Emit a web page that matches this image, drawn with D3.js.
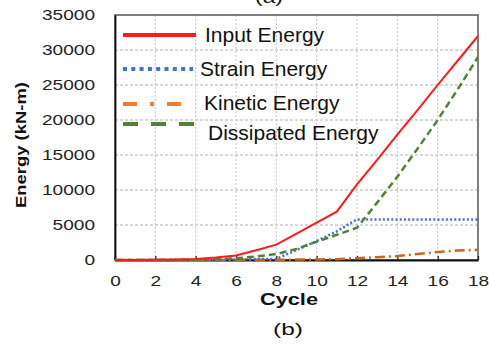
<!DOCTYPE html>
<html><head><meta charset="utf-8">
<script src="https://cdn.jsdelivr.net/npm/d3@7"></script>
<style>body{margin:0;background:#fff}svg{display:block;font-family:"Liberation Sans",Arial,sans-serif}</style>
</head><body><svg id="c" width="489" height="345"></svg>
<script>
const cycles = [0,1,2,3,4,5,6,7,8,9,10,11,12,13,14,15,16,17,18];
const inputEnergy = [0,10,30,80,150,350,650,1400,2200,3770,5330,6900,10800,14300,17900,21400,25000,28500,32000];
const strainEnergy = [0,0,0,0,0,20,80,150,150,1430,2700,4100,5800,5800,5800,5800,5800,5800,5800];
const kineticEnergy = [0,0,0,0,0,0,20,30,40,60,80,120,250,400,570,850,1150,1350,1450];
const dissipatedEnergy = [0,0,0,0,20,100,250,500,860,1570,2620,3600,4600,8200,11900,15900,20000,24400,29000];
const seriesNames = ["Input Energy","Strain Energy","Kinetic Energy","Dissipated Energy"];
const xTicks = [0,2,4,6,8,10,12,14,16,18];
const yTicks = [0,5000,10000,15000,20000,25000,30000,35000];

const svg = d3.select("#c");
const L=115, R=478, T=15, B=260;
const x = d3.scaleLinear().domain([0,18]).range([L,R]);
const y = d3.scaleLinear().domain([0,35000]).range([B,T]);

// grid
svg.append("g").selectAll("line").data(yTicks.slice(1,-1)).join("line")
  .attr("x1",L).attr("x2",R).attr("y1",d=>y(d)).attr("y2",d=>y(d))
  .attr("stroke","#b0b0b0").attr("stroke-width",1).attr("stroke-dasharray","3,2");
svg.append("g").selectAll("line").data(xTicks.slice(1,-1)).join("line")
  .attr("y1",T).attr("y2",B).attr("x1",d=>x(d)).attr("x2",d=>x(d))
  .attr("stroke","#c4c4c4").attr("stroke-width",1).attr("stroke-dasharray","2,2");

// frame
svg.append("rect").attr("x",L).attr("y",T).attr("width",R-L).attr("height",B-T)
  .attr("fill","none").attr("stroke","#555").attr("stroke-width",1.5);

// axes
const xa = svg.append("g").attr("transform",`translate(0,${B})`)
  .call(d3.axisBottom(x).tickValues(xTicks).tickSizeInner(-4).tickSizeOuter(0).tickPadding(15));
const ya = svg.append("g").attr("transform",`translate(${L},0)`)
  .call(d3.axisLeft(y).tickValues(yTicks).tickSize(0).tickPadding(20).tickFormat(d3.format("d")));
[xa,ya].forEach(a=>{
  a.select(".domain").attr("stroke","#111").attr("stroke-width",1.8);
  a.selectAll(".tick line").attr("stroke","#222").attr("stroke-width",1.3);
  a.selectAll("text").attr("font-size",15).attr("fill","#222")
    .attr("font-family","Liberation Sans, Arial, sans-serif")
    .attr("lengthAdjust","spacingAndGlyphs")
    .attr("textLength",function(){return this.textContent.length*10.6;});
});
xa.selectAll(".tick text").attr("dy","0.71em");

const data = [
  {vals: inputEnergy, color:"#ff1a1a", lcolor:"#ff1a1a", dash:null, w:2, ldash:null, lw:4, ly:35, x2:196, tx:205, ty:42},
  {vals: strainEnergy, color:"#4472c4", lcolor:"#4472c4", dash:"2,2.2", w:2.5, ldash:"4,4.3", lw:4, ly:69, x2:193, tx:200, ty:76},
  {vals: kineticEnergy, color:"#cc661e", lcolor:"#ed7d31", dash:"10,4,2,4", w:2.5, ldash:"14,13,4,13", lw:4, ly:104, x2:183, tx:204, ty:110},
  {vals: dissipatedEnergy, color:"#548235", lcolor:"#548235", dash:"7,4", w:2.5, ldash:"15,13", lw:4, ly:124, x2:195, tx:208, ty:140}
];
const line = d3.line().x((d,i)=>x(cycles[i])).y(d=>y(d));
[2,1,3,0].forEach(k=>{
  const s=data[k];
  svg.append("path").attr("d",line(s.vals)).attr("fill","none")
    .attr("stroke",s.color).attr("stroke-width",s.w)
    .attr("stroke-dasharray",s.dash);
});

// legend
data.forEach((s,i)=>{
  svg.append("line").attr("x1",123).attr("x2",s.x2)
    .attr("y1",s.ly).attr("y2",s.ly).attr("stroke",s.lcolor).attr("stroke-width",s.lw)
    .attr("stroke-dasharray",s.ldash);
  svg.append("text").attr("x",s.tx).attr("y",s.ty).attr("font-size",21).attr("fill","#111")
    .text(seriesNames[i]);
});

// titles
svg.append("text").attr("x",289).attr("y",305).attr("text-anchor","middle")
  .attr("font-size",17).attr("font-weight","bold").attr("fill","#111")
  .attr("textLength",58).attr("lengthAdjust","spacingAndGlyphs").text("Cycle");
svg.append("text").attr("transform","translate(26,145) rotate(-90)").attr("text-anchor","middle")
  .attr("font-size",15).attr("font-weight","bold").attr("fill","#111")
  .attr("textLength",126).attr("lengthAdjust","spacingAndGlyphs").text("Energy (kN-m)");
svg.append("text").attr("x",288).attr("y",335).attr("text-anchor","middle")
  .attr("font-size",17).attr("fill","#111")
  .attr("textLength",30).attr("lengthAdjust","spacingAndGlyphs").text("(b)");
svg.append("text").attr("x",269).attr("y",3).attr("text-anchor","middle")
  .attr("font-size",17).attr("fill","#111")
  .attr("textLength",28).attr("lengthAdjust","spacingAndGlyphs").text("(a)");
</script></body></html>
